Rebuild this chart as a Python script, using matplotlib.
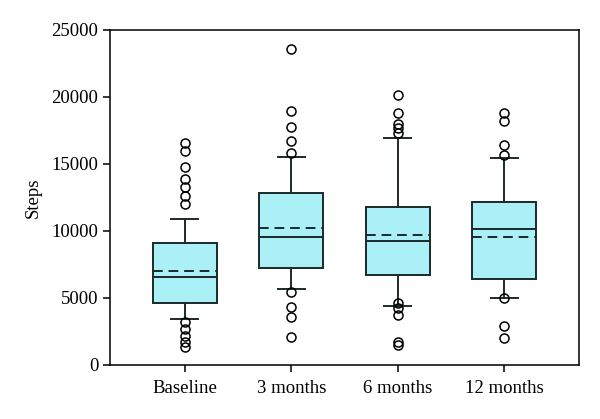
import matplotlib
matplotlib.use("Agg")
import matplotlib.pyplot as plt

plt.rcParams['font.family'] = ['Liberation Serif', 'DejaVu Serif']

# values
groups = ['Baseline', '3 months', '6 months', '12 months']
q1 = [4620, 7210, 6710, 6370]
q3 = [9060, 12820, 11790, 12170]
medians = [6560, 9550, 9210, 10100]
means = [7010, 10200, 9700, 9550]
whislo = [3420, 5670, 4400, 4970]
whishi = [10850, 15510, 16930, 15460]
outliers = [
    [16530, 15980, 14740, 13840, 13290, 12590, 12000, 3200, 2630, 2130, 1680, 1290],
    [23580, 18920, 17730, 16730, 15830, 5440, 4320, 3530, 2030],
    [20120, 18820, 17980, 17650, 17330, 4570, 4200, 3700, 1700, 1460],
    [18770, 18220, 16400, 15660, 4970, 2880, 1960],
]

stats = []
for i, g in enumerate(groups):
    stats.append(dict(label=g, q1=q1[i], q3=q3[i], med=medians[i], mean=means[i],
                      whislo=whislo[i], whishi=whishi[i], fliers=outliers[i]))

fig = plt.figure(figsize=(6, 4.19), dpi=100)
ax = fig.add_axes([110/600, 1-364.5/419, 469/600, 334.5/419])

lc = '#1c2a2a'
ax.bxp(stats, positions=[1, 2, 3, 4], widths=0.6, patch_artist=True,
       showmeans=True, meanline=True,
       boxprops=dict(facecolor='#aaf0f6', edgecolor=lc, linewidth=1.4),
       medianprops=dict(color=lc, linewidth=1.4),
       meanprops=dict(color=lc, linestyle=(0, (5, 3)), linewidth=1.4),
       whiskerprops=dict(color=lc, linewidth=1.4),
       capprops=dict(color=lc, linewidth=1.4),
       capwidths=0.25,
       flierprops=dict(marker='o', markersize=6.5, markerfacecolor='none',
                       markeredgecolor='black', markeredgewidth=1.1))

ax.set_xlim(0.3, 4.7)
ax.set_ylim(0, 25000)
ax.set_yticks([0, 5000, 10000, 15000, 20000, 25000])
ax.set_xticks([1, 2, 3, 4])
ax.set_xticklabels(groups)
ax.set_ylabel('Steps', fontsize=13.5, labelpad=7)
ax.tick_params(labelsize=13.5, direction='out', length=5, width=1.1)
ax.tick_params(axis='x', pad=6)
for s in ax.spines.values():
    s.set_linewidth(1.1)

fig.savefig('out.png', dpi=100)
